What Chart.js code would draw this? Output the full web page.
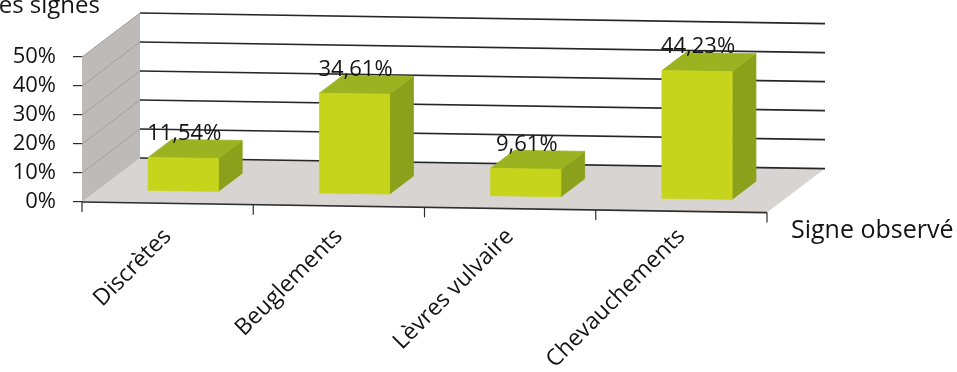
<!DOCTYPE html>
<html lang="fr">
<head>
<meta charset="utf-8">
<title>Signe observé</title>
<script src="https://cdn.jsdelivr.net/npm/chart.js@4.4.1/dist/chart.umd.min.js"></script>
<style>
  html, body { margin: 0; padding: 0; background: #ffffff; overflow: hidden; }
  #wrap { width: 957px; height: 372px; position: relative; }
</style>
</head>
<body>
<div id="wrap"><canvas id="chart" width="957" height="372"></canvas></div>
<script>
// Categories and their shares (%)
const categories = ['Discrètes', 'Beuglements', 'Lèvres vulvaire', 'Chevauchements'];
const shares = [11.54, 34.61, 9.61, 44.23];
const yTickValues = [0, 10, 20, 30, 40, 50];
const yAxisTitle = 'Les signes';
const xAxisTitle = 'Signe observé';

// 3-D look: depth of the walls and floor, slight perspective tilt, bar depth range
const DEPTH_DX = 58, DEPTH_DY = -44;
const TILT = 0.0155;
const BAR_F0 = 0.27, BAR_F1 = 0.68;

const COLORS = {
  text: '#141414',
  backWall: '#ffffff',
  sideWall: '#bebab7',
  floor: '#d8d4d1',
  grid: '#262626',
  sideGrid: '#a29e9b',
  axis: '#2e2e2e',
  barFront: '#c6d51c',
  barTop: '#9bb320',
  barSide: '#8ba01b'
};

const FONT = '"Open Sans", "DejaVu Sans", sans-serif';

function proj(area, x, y, f) {
  return [x + f * DEPTH_DX, y + f * DEPTH_DY + (x - area.left) * TILT];
}

function poly(ctx, pts, fill, stroke, lw) {
  ctx.beginPath();
  ctx.moveTo(pts[0][0], pts[0][1]);
  for (let i = 1; i < pts.length; i++) ctx.lineTo(pts[i][0], pts[i][1]);
  ctx.closePath();
  if (fill) { ctx.fillStyle = fill; ctx.fill(); }
  if (stroke) { ctx.strokeStyle = stroke; ctx.lineWidth = lw || 1; ctx.stroke(); }
}

function line(ctx, p, q, color, lw) {
  ctx.beginPath();
  ctx.moveTo(p[0], p[1]);
  ctx.lineTo(q[0], q[1]);
  ctx.strokeStyle = color;
  ctx.lineWidth = lw;
  ctx.stroke();
}

const frPercent = v => v.toFixed(2).replace('.', ',') + '%';

// Walls, floor, gridlines and the front axis edge
const walls3d = {
  id: 'walls3d',
  beforeDatasetsDraw(chart) {
    const { ctx, chartArea: a, scales: { x, y } } = chart;
    const y0 = y.getPixelForValue(y.min);
    const yT = y.getPixelForValue(y.max);
    ctx.save();
    // floor
    poly(ctx, [proj(a, a.left, y0, 0), proj(a, a.right, y0, 0), proj(a, a.right, y0, 1), proj(a, a.left, y0, 1)], COLORS.floor);
    // back wall
    poly(ctx, [proj(a, a.left, y0, 1), proj(a, a.right, y0, 1), proj(a, a.right, yT, 1), proj(a, a.left, yT, 1)], COLORS.backWall);
    // side wall
    poly(ctx, [proj(a, a.left, y0, 0), proj(a, a.left, yT, 0), proj(a, a.left, yT, 1), proj(a, a.left, y0, 1)], COLORS.sideWall);
    // gridlines on both walls
    yTickValues.forEach(v => {
      const yp = y.getPixelForValue(v);
      if (v > y.min) line(ctx, proj(a, a.left, yp, 0), proj(a, a.left, yp, 1), COLORS.sideGrid, 1);
      line(ctx, proj(a, a.left, yp, 1), proj(a, a.right, yp, 1), COLORS.grid, 1.6);
    });
    // front floor edge (category axis) and its tick marks
    line(ctx, proj(a, a.left, y0, 0), proj(a, a.right, y0, 0), COLORS.axis, 1.6);
    for (let i = 0; i <= categories.length; i++) {
      const xb = x.getPixelForValue(i - 0.5);
      const p = proj(a, xb, y0, 0);
      line(ctx, p, [p[0], p[1] + 10], COLORS.axis, 1.2);
    }
    ctx.restore();
  }
};

// Bars as boxes, built from the bar elements the library laid out
const bars3d = {
  id: 'bars3d',
  afterDatasetsDraw(chart) {
    const { ctx, chartArea: a } = chart;
    const meta = chart.getDatasetMeta(0);
    ctx.save();
    meta.data.forEach(el => {
      const { x: cx, y: top, base, width } = el.getProps(['x', 'y', 'base', 'width'], true);
      const xl = cx - width / 2, xr = cx + width / 2;
      const FLB = proj(a, xl, base, BAR_F0), FRB = proj(a, xr, base, BAR_F0);
      const FLT = proj(a, xl, top, BAR_F0), FRT = proj(a, xr, top, BAR_F0);
      const BLT = proj(a, xl, top, BAR_F1), BRT = proj(a, xr, top, BAR_F1);
      const BRB = proj(a, xr, base, BAR_F1);
      poly(ctx, [FRB, FRT, BRT, BRB], COLORS.barSide, COLORS.barSide, 0.8);
      poly(ctx, [FLT, FRT, BRT, BLT], COLORS.barTop, COLORS.barTop, 0.8);
      poly(ctx, [FLB, FRB, FRT, FLT], COLORS.barFront, COLORS.barFront, 0.8);
    });
    // value labels above the boxes
    ctx.font = '22px ' + FONT;
    ctx.fillStyle = COLORS.text;
    ctx.textAlign = 'center';
    ctx.textBaseline = 'middle';
    meta.data.forEach((el, i) => {
      const { x: cx, y: top } = el.getProps(['x', 'y'], true);
      const p = proj(a, cx, top, BAR_F0);
      ctx.fillText(frPercent(shares[i]), p[0] + 1, p[1] - 24);
    });
    ctx.restore();
  }
};

// Axis titles
const axisTitles = {
  id: 'axisTitles',
  afterDraw(chart) {
    const { ctx } = chart;
    ctx.save();
    ctx.font = '24px ' + FONT;
    ctx.fillStyle = COLORS.text;
    ctx.textBaseline = 'alphabetic';
    ctx.textAlign = 'right';
    ctx.fillText(yAxisTitle, 100, 13);
    ctx.font = '25px ' + FONT;
    ctx.textAlign = 'left';
    ctx.fillText(xAxisTitle, 791, 238);
    ctx.restore();
  }
};

new Chart(document.getElementById('chart'), {
  type: 'bar',
  data: {
    labels: categories,
    datasets: [{
      data: shares,
      backgroundColor: 'rgba(0,0,0,0)',
      borderWidth: 0,
      barPercentage: 0.41,
      categoryPercentage: 1
    }]
  },
  options: {
    responsive: false,
    animation: false,
    layout: { padding: { top: 57, right: 190, left: 0, bottom: 0 } },
    plugins: { legend: { display: false }, tooltip: { enabled: false } },
    scales: {
      x: {
        grid: { display: false, drawTicks: false },
        border: { display: false },
        ticks: {
          autoSkip: false,
          minRotation: 45,
          maxRotation: 45,
          padding: 21,
          color: COLORS.text,
          font: { family: FONT, size: 23 }
        },
        afterFit(scale) { scale.height = 170; }
      },
      y: {
        min: 0,
        max: 50,
        grid: { drawOnChartArea: false, drawTicks: true, tickLength: 9, color: COLORS.axis, lineWidth: 1.2 },
        border: { display: true, color: '#8f8b88', width: 1 },
        ticks: {
          autoSkip: false,
          stepSize: 10,
          padding: 17,
          color: COLORS.text,
          font: { family: FONT, size: 22 },
          callback: v => v + '%'
        },
        afterFit(scale) { scale.width = 82; }
      }
    }
  },
  plugins: [walls3d, bars3d, axisTitles]
});
</script>
</body>
</html>
